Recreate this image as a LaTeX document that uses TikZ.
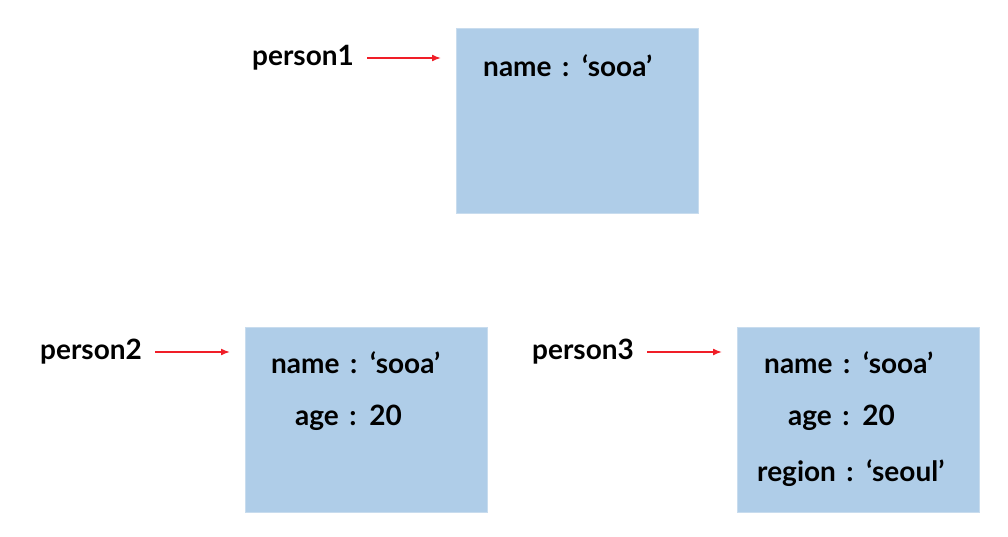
\documentclass[tikz,border=0pt]{standalone}
\usepackage{fontspec}
\setmainfont{Lato}
\usetikzlibrary{arrows.meta}
\definecolor{boxblue}{RGB}{175,205,232}
\definecolor{boxedge}{RGB}{200,220,238}
\definecolor{arrred}{RGB}{240,30,40}
\newcommand{\mytxtfont}{\bfseries\fontsize{28}{32}\selectfont\spaceskip=10.5pt\relax}
\begin{document}
\begin{tikzpicture}[x=1pt,y=-1pt,
  lbl/.style={font=\bfseries\fontsize{28}{32}\selectfont, inner sep=0pt, anchor=west},
  txt/.style={font=\mytxtfont, inner sep=0pt, anchor=west},
  objbox/.style={fill=boxblue, draw=boxedge, line width=1pt, minimum width=242pt, minimum height=185pt, inner sep=0pt, anchor=north west},
  ptr/.style={draw=arrred, line width=1.6pt, -{Latex[length=9pt,width=7pt]}, shorten <=13pt, shorten >=15pt}
]
\useasboundingbox (0,0) rectangle (1008,536);
\node[objbox] (b1) at (456,28) {};
\node[objbox] (b2) at (245,327) {};
\node[objbox] (b3) at (737,327) {};

\node[lbl] (p1) at (252,58) {person1};
\node[lbl] (p2) at (40,352) {person2};
\node[lbl] (p3) at (532,352) {person3};

\node[txt] (t1) at (483,66) {name : ‘sooa’};
\node[txt] (t2a) at (271,363) {name : ‘sooa’};
\node[txt] (t2b) at (295,418) {age : 20};
\node[txt] (t3a) at (764,363) {name : ‘sooa’};
\node[txt] (t3b) at (788,418) {age : 20};
\node[txt] (t3c) at (757,473) {region : ‘seoul’};

\draw[ptr] (p1.east) -- (p1.east -| b1.west);
\draw[ptr] (p2.east) -- (p2.east -| b2.west);
\draw[ptr] (p3.east) -- (p3.east -| b3.west);
\end{tikzpicture}
\end{document}
